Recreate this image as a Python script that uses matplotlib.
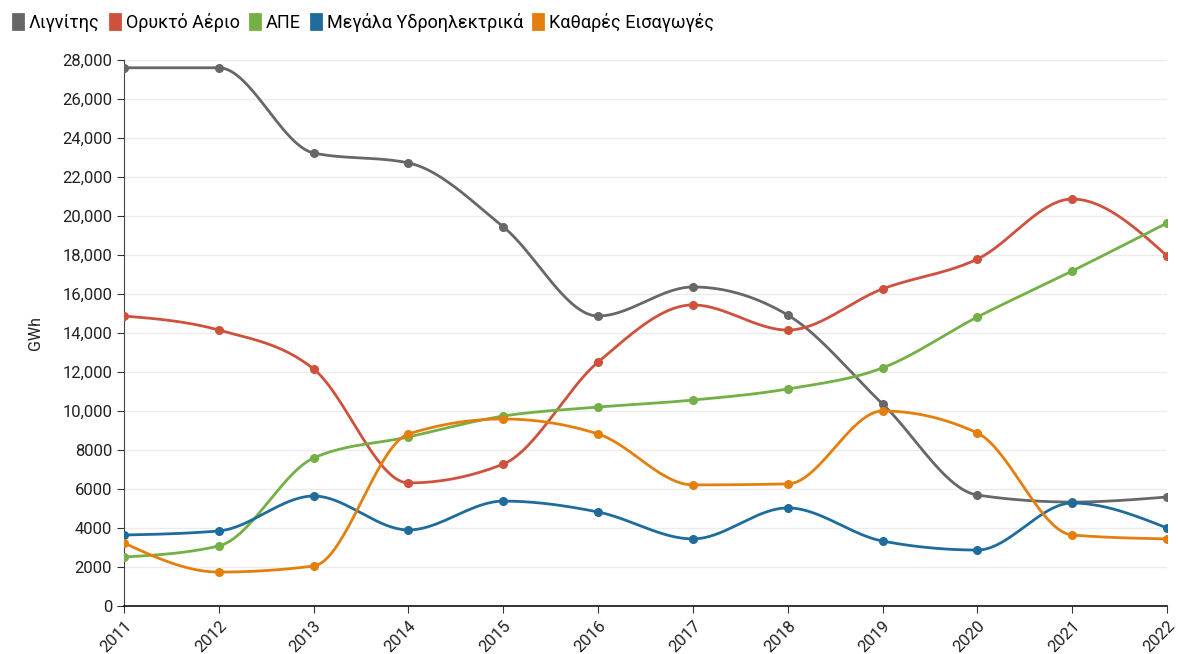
import numpy as np
import matplotlib
matplotlib.use("Agg")
import matplotlib.pyplot as plt
from matplotlib.patches import Patch
from matplotlib.ticker import FuncFormatter

plt.rcParams['font.family'] = ['Roboto', 'DejaVu Sans']

# data (GWh)
years = [2011, 2012, 2013, 2014, 2015, 2016, 2017, 2018, 2019, 2020, 2021, 2022]
lignite = [27600, 27600, 23230, 22720, 19440, 14870, 16360, 14920, 10360, 5690, 5330, 5590]
gas = [14870, 14150, 12150, 6310, 7280, 12510, 15440, 14150, 16260, 17790, 20870, 17950]
res = [2510, 3080, 7590, 8670, 9740, 10200, 10560, 11130, 12210, 14820, 17180, 19640]
hydro = [3640, 3850, 5640, 3900, 5380, 4820, 3440, 5030, 3330, 2870, 5280, 4000]
imports = [3230, 1740, 2050, 8820, 9590, 8820, 6210, 6260, 10000, 8870, 3640, 3440]

labels = ['Λιγνίτης', 'Ορυκτό Αέριο', 'ΑΠΕ', 'Μεγάλα Υδροηλεκτρικά', 'Καθαρές Εισαγωγές']
colors = ['#676767', '#cf513d', '#73b045', '#1e6c9c', '#e47f0d']
series = [lignite, gas, res, hydro, imports]


def monotone_curve(x, y, n=40):
    """Monotone cubic (like d3.curveMonotoneX) drawn through the points."""
    x = np.asarray(x, float)
    y = np.asarray(y, float)
    h = np.diff(x)
    s = np.diff(y) / h
    t = np.zeros(len(x))
    for i in range(1, len(x) - 1):
        p = (s[i - 1] * h[i] + s[i] * h[i - 1]) / (h[i - 1] + h[i])
        t[i] = (np.sign(s[i - 1]) + np.sign(s[i])) * min(abs(s[i - 1]), abs(s[i]), 0.5 * abs(p))
    t[0] = (3 * s[0] - t[1]) / 2
    t[-1] = (3 * s[-1] - t[-2]) / 2
    xs, ys = [], []
    for i in range(len(x) - 1):
        u = np.linspace(0, 1, n)
        dx = h[i]
        p0, p3 = y[i], y[i + 1]
        p1 = y[i] + dx * t[i] / 3
        p2 = y[i + 1] - dx * t[i + 1] / 3
        xs.append(x[i] + dx * u)
        ys.append((1 - u) ** 3 * p0 + 3 * (1 - u) ** 2 * u * p1 + 3 * (1 - u) * u ** 2 * p2 + u ** 3 * p3)
    return np.concatenate(xs), np.concatenate(ys)


fig = plt.figure(figsize=(11.78, 6.54), dpi=100)
ax = fig.add_axes([0.1053, 0.0734, 0.8854, 0.8349])

for vals, c in zip(series, colors):
    cx, cy = monotone_curve(years, vals)
    ax.plot(cx, cy, color=c, lw=2.0, solid_capstyle='round', zorder=3)
    ax.plot(years, vals, 'o', color=c, ms=5.5, zorder=4)

ax.set_xlim(2011, 2022)
ax.set_ylim(0, 28000)
ax.set_yticks(np.arange(0, 28001, 2000))
ax.set_xticks(years)
ax.yaxis.set_major_formatter(FuncFormatter(lambda v, _: f"{v:,.0f}" if v >= 10000 else f"{v:.0f}"))
ax.set_xticklabels([str(y) for y in years], rotation=45, ha='right', va='top',
                   rotation_mode='anchor')
ax.tick_params(axis='both', labelsize=12, length=5, color='#333333', labelcolor='#222222')
ax.tick_params(axis='x', pad=4)
ax.grid(axis='y', color='#ececec', lw=1, zorder=0)
ax.set_axisbelow(True)
for side in ['top', 'right']:
    ax.spines[side].set_visible(False)
ax.spines['left'].set_color('#444444')
ax.spines['bottom'].set_color('#111111')
ax.spines['bottom'].set_linewidth(1.2)
ax.set_ylabel('GWh', fontsize=11.5, color='#222222', labelpad=14)

handles = [Patch(facecolor=c, edgecolor=c, linewidth=2, joinstyle='round') for c in colors]
fig.legend(handles, labels, loc='upper left', bbox_to_anchor=(0.0, 1.0), ncol=5,
           frameon=False, fontsize=13, handlelength=0.55, handleheight=0.9,
           handletextpad=0.35, columnspacing=0.55, borderaxespad=0.3)

fig.savefig('out.png', dpi=100)
